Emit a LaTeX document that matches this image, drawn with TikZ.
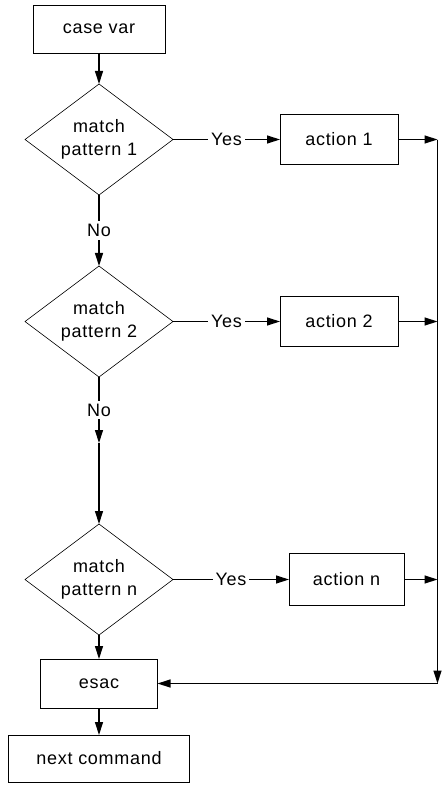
\documentclass[tikz,border=0pt]{standalone}
\usepackage{fontspec}
\newfontfamily\flowfont{Liberation Sans}[LetterSpace=4]
\usetikzlibrary{shapes.geometric,arrows.meta,positioning}
\tikzset{
  flowbox/.style={draw, line width=0.8pt, minimum height=48pt, align=center, inner sep=2pt, outer sep=0pt},
  decision/.style={draw, diamond, aspect=1.33, line width=0.6pt, minimum width=148pt, minimum height=111pt, inner sep=0pt, outer sep=0pt, align=center},
  flowarrow/.style={-{Triangle[length=13pt,width=8pt]}, line width=1.3pt},
  answer/.style={fill=white, inner sep=3pt},
}

\begin{document}
\begin{tikzpicture}[x=1pt, y=-1pt, font=\flowfont\fontsize{18}{23}\selectfont]
  \useasboundingbox (0,0) rectangle (445,789);
  \node[flowbox, minimum width=132pt] (casevar) at (99,29) {case var};
  \node[decision, below=31pt of casevar] (match1) {match\\pattern 1};
  \node[decision, below=71pt of match1] (match2) {match\\pattern 2};
  \coordinate[below=66pt of match2] (gap);
  \node[decision, below=81pt of gap] (matchn) {match\\pattern n};
  \node[flowbox, minimum width=117pt, minimum height=49pt, below=24pt of matchn] (esac) {esac};
  \node[flowbox, minimum width=181pt, minimum height=47pt, below=27pt of esac] (next) {next command};

  \node[flowbox, minimum width=118pt, minimum height=50pt, right=107pt of match1] (action1) {action 1};
  \node[flowbox, minimum width=118pt, minimum height=50pt, right=107pt of match2] (action2) {action 2};
  \node[flowbox, minimum width=115pt, minimum height=52pt, right=116pt of matchn] (actionn) {action n};
  \coordinate[right=280pt of esac.east] (railend);

  % main column
  \draw[flowarrow] (casevar) -- (match1);
  \draw[flowarrow] (match1) -- node[answer] {No} (match2);
  \draw[flowarrow] (match2) -- node[answer] {No} (gap);
  \draw[flowarrow] (gap) -- (matchn);
  \draw[flowarrow] (matchn) -- (esac);
  \draw[flowarrow] (esac) -- (next);

  % yes branches
  \draw[flowarrow] (match1) -- node[answer] {Yes} (action1);
  \draw[flowarrow] (match2) -- node[answer] {Yes} (action2);
  \draw[flowarrow] (matchn) -- node[answer] {Yes} (actionn);
  \draw[flowarrow] (action1) -- (action1 -| railend);
  \draw[flowarrow] (action2) -- (action2 -| railend);
  \draw[flowarrow] (actionn) -- (actionn -| railend);

  % back to esac
  \draw[flowarrow] (action1 -| railend) -- (railend);
  \draw[flowarrow] (railend) -- (esac);
\end{tikzpicture}
\end{document}
